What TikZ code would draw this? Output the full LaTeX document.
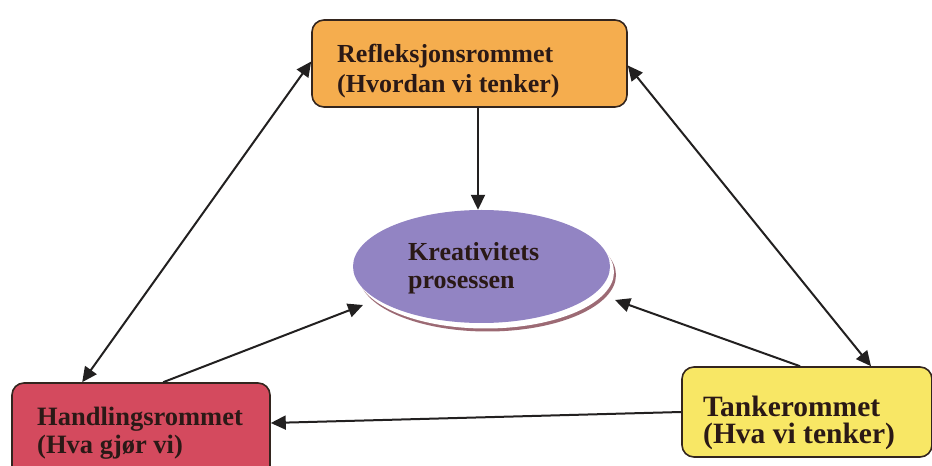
\documentclass[tikz,border=0pt]{standalone}
\usepackage{fontspec}
\setmainfont{Liberation Serif}
\usetikzlibrary{shapes.geometric,arrows.meta,calc}

\definecolor{orangefill}{HTML}{F5AD4E}
\definecolor{redfill}{HTML}{D44A5E}
\definecolor{yellowfill}{HTML}{F8E765}
\definecolor{purplefill}{HTML}{9284C3}
\definecolor{rimshadow}{HTML}{9C6A74}
\definecolor{edge}{HTML}{33251E}
\definecolor{ink}{HTML}{2A1916}
\definecolor{linecol}{HTML}{222020}

\begin{document}
\begin{tikzpicture}[x=1pt,y=1pt,
  box/.style={draw=edge, line width=1.6pt, rounded corners=12pt, inner sep=0pt},
  boxtext/.style={text=ink, align=left, inner sep=0pt, anchor=north west},
  link/.style={draw=linecol, line width=2pt, -{Triangle[length=15pt,width=14pt]}},
  twoway/.style={draw=linecol, line width=2pt,
    {Triangle[length=15pt,width=14pt]}-{Triangle[length=15pt,width=14pt]}}
]
\useasboundingbox (0,0) rectangle (932,466);
\fill[white] (0,0) rectangle (932,466);

% the three rooms
\node[box, fill=orangefill, minimum width=315pt, minimum height=87pt] (refl) at (469.5,402.5) {};
\node[box, fill=redfill, minimum width=258pt, minimum height=95pt] (hand) at (141,35.5) {};
\node[box, fill=yellowfill, minimum width=250pt, minimum height=90pt] (tank) at (807,54) {};

% central ellipse with its rim and shadow
\fill[rimshadow] (487.5,191) ellipse [x radius=128.5, y radius=56.5];
\fill[white] (485.5,194) ellipse [x radius=128.5, y radius=56.5];
\node[ellipse, fill=purplefill, minimum width=257pt, minimum height=113pt, inner sep=0pt] (kre) at (481.5,199.5) {};

% texts
\node[boxtext, font=\fontsize{26}{30}\selectfont\bfseries] (refltext) at (337,422)
  {Refleksjonsrommet\\(Hvordan vi tenker)};
\node[boxtext, font=\fontsize{26.5}{28}\selectfont\bfseries] (handtext) at (37,59)
  {Handlingsrommet\\(Hva gjør vi)};
\node[boxtext, font=\fontsize{29.5}{27}\selectfont\bfseries] (tanktext) at (703,70)
  {Tankerommet\\(Hva vi tenker)};
\node[boxtext, font=\fontsize{26}{28}\selectfont\bfseries] (kretext) at (408,224)
  {Kreativitets\\prosessen};

% connectors
\draw[twoway] ([xshift=71pt]hand.north west) -- ([yshift=2pt]refl.west);
\draw[twoway] ([yshift=-2pt]refl.east) -- ([xshift=64pt]tank.north);
\draw[link] ([xshift=8.5pt]refl.south) -- ([xshift=8.5pt]refl.south |- kre.north);
\draw[link] ([xshift=152pt]hand.north west) -- ($(kre.center)+(-118.5,-38.5)$);
\draw[link] ([xshift=-7pt]tank.north) -- ($(kre.center)+(133.5,-33.5)$);
\draw[link] (tank.west) -- ([yshift=7.5pt]hand.east);
\end{tikzpicture}
\end{document}
